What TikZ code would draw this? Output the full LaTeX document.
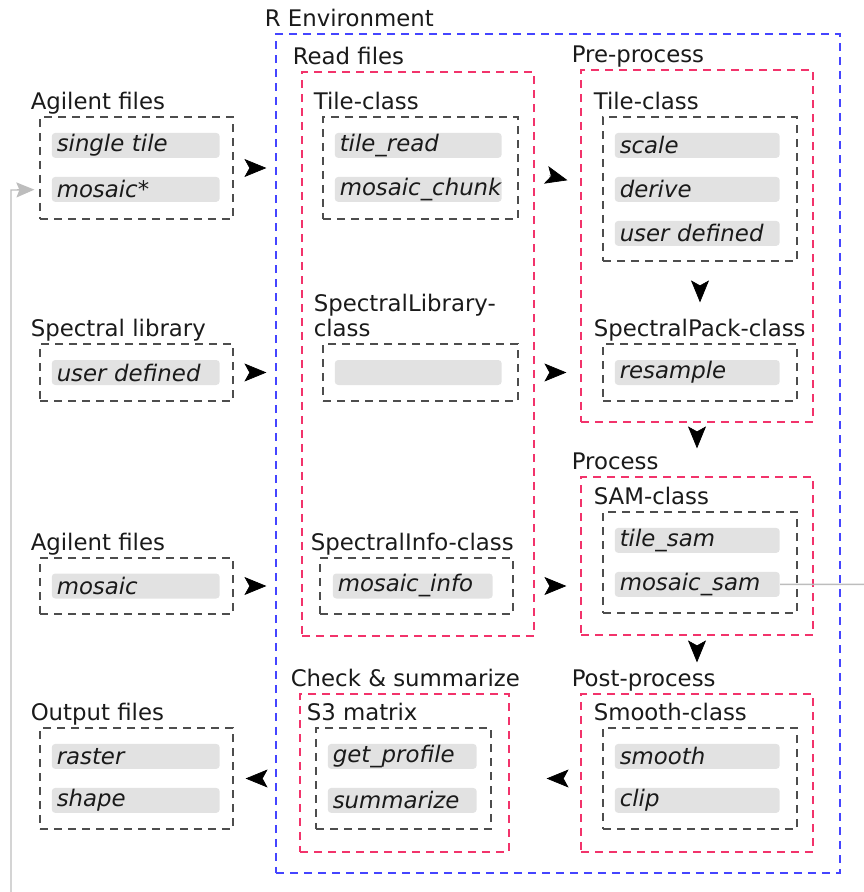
\documentclass[tikz,border=0pt]{standalone}
\usepackage{fontspec}
\setmainfont{DejaVu Sans}
\usetikzlibrary{arrows.meta, positioning, calc}

\definecolor{boxgray}{HTML}{4D4D4D}
\definecolor{stagered}{HTML}{F2336B}
\definecolor{envblue}{HTML}{4545FF}
\definecolor{bargray}{HTML}{E2E2E2}
\definecolor{loopgray}{HTML}{BDBDBD}
\definecolor{textdark}{HTML}{1A1A1A}
\newcommand{\diagfont}{\fontsize{13}{15}\selectfont}

\begin{document}
\begin{tikzpicture}[x=0.02cm, y=-0.02cm, node distance=0.88cm, on grid,
    classbox/.style={draw=boxgray, dash pattern=on 0.16cm off 0.12cm, line width=0.7pt, inner sep=0pt},
    stagebox/.style={draw=stagered, dash pattern=on 0.16cm off 0.12cm, line width=0.7pt, inner sep=0pt},
    envbox/.style={draw=envblue, dash pattern=on 0.16cm off 0.12cm, line width=0.7pt, inner sep=0pt},
    item/.style={fill=bargray, rounded corners=2pt, inner xsep=0.1cm, inner ysep=0pt,
        minimum height=0.5cm, text width=#1, align=left, anchor=west,
        font=\diagfont\itshape, text=textdark},
    lbl/.style={anchor=base west, inner sep=0pt, font=\diagfont, text=textdark},
    flow/.style={-{Stealth[length=0.44cm, width=0.36cm, inset=0.1cm]}, line width=0.4pt, black},
    loopline/.style={draw=loopgray, line width=0.75pt, -{Stealth[length=0.36cm, width=0.3cm, inset=0.06cm]}}]

    \useasboundingbox (0,0) rectangle (864,892);

    % R environment and the stages inside it
    \node[envbox, minimum width=11.28cm, minimum height=16.78cm] (renv) at (558,453.5) {};
    \node[stagebox, minimum width=4.64cm, minimum height=11.28cm] (readF) at (418,354) {};
    \node[stagebox, minimum width=4.64cm, minimum height=7.04cm] (preP) at (697,246) {};
    \node[stagebox, minimum width=4.64cm, minimum height=3.16cm] (proc) at (697,556) {};
    \node[stagebox, minimum width=4.64cm, minimum height=3.16cm] (post) at (697,773) {};
    \node[stagebox, minimum width=4.18cm, minimum height=3.16cm] (chk) at (404.5,773) {};

    \node[lbl] (lRenv) at ([shift={(-0.22cm,0.14cm)}]renv.north west) {R Environment};
    \node[lbl] (lReadF) at ([shift={(-0.18cm,0.14cm)}]readF.north west) {Read files};
    \node[lbl] (lPreP) at ([shift={(-0.18cm,0.14cm)}]preP.north west) {Pre-process};
    \node[lbl] (lProc) at ([shift={(-0.18cm,0.14cm)}]proc.north west) {Process};
    \node[lbl] (lPost) at ([shift={(-0.18cm,0.14cm)}]post.north west) {Post-process};
    \node[lbl] (lChk) at ([shift={(-0.18cm,0.14cm)}]chk.north west) {Check \& summarize};

    % input and output files
    \node[classbox, minimum width=3.86cm, minimum height=2.04cm] (agil1) at (136.5,168) {};
    \node[classbox, minimum width=3.86cm, minimum height=1.14cm] (spl) at (136.5,372.5) {};
    \node[classbox, minimum width=3.86cm, minimum height=1.12cm] (agil2) at (136.5,586) {};
    \node[classbox, minimum width=3.86cm, minimum height=2.02cm] (outF) at (136.5,778.5) {};

    \node[lbl] (lAgil1) at ([shift={(-0.18cm,0.14cm)}]agil1.north west) {Agilent files};
    \node[lbl] (lSpl) at ([shift={(-0.18cm,0.14cm)}]spl.north west) {Spectral library};
    \node[lbl] (lAgil2) at ([shift={(-0.18cm,0.14cm)}]agil2.north west) {Agilent files};
    \node[lbl] (lOutF) at ([shift={(-0.18cm,0.14cm)}]outF.north west) {Output files};

    \node[item=3.16cm] (sTile) at ([shift={(0.24cm,-0.58cm)}]agil1.north west) {single tile};
    \node[item=3.16cm, below=of sTile] (mos) {mosaic*};
    \node[item=3.16cm] (uDef) at ([xshift=0.24cm]spl.west) {user defined};
    \node[item=3.16cm] (mosA) at ([xshift=0.24cm]agil2.west) {mosaic};
    \node[item=3.16cm] (rast) at ([shift={(0.24cm,-0.58cm)}]outF.north west) {raster};
    \node[item=3.16cm, below=of rast] (shp) {shape};

    % classes
    \node[classbox, minimum width=3.90cm, minimum height=2.04cm] (tileR) at (420.5,168) {};
    \node[classbox, minimum width=3.90cm, minimum height=1.14cm] (spLib) at (420.5,372.5) {};
    \node[classbox, minimum width=3.86cm, minimum height=1.12cm] (spInfo) at (416.5,586) {};
    \node[classbox, minimum width=3.88cm, minimum height=2.88cm] (tileP) at (700,189) {};
    \node[classbox, minimum width=3.88cm, minimum height=1.14cm] (spPack) at (700,372.5) {};
    \node[classbox, minimum width=3.88cm, minimum height=2.02cm] (sam) at (700,562.5) {};
    \node[classbox, minimum width=3.88cm, minimum height=2.02cm] (smooth) at (700,778.5) {};
    \node[classbox, minimum width=3.50cm, minimum height=2.02cm] (s3) at (403.5,778.5) {};

    \node[lbl] (lTileR) at ([shift={(-0.18cm,0.14cm)}]tileR.north west) {Tile-class};
    \node[lbl, align=left, font=\fontsize{13}{14}\selectfont] (lSpLib) at ([shift={(-0.18cm,0.14cm)}]spLib.north west) {SpectralLibrary-\\class};
    \node[lbl] (lSpInfo) at ([shift={(-0.18cm,0.14cm)}]spInfo.north west) {SpectralInfo-class};
    \node[lbl] (lTileP) at ([shift={(-0.18cm,0.14cm)}]tileP.north west) {Tile-class};
    \node[lbl] (lSpPack) at ([shift={(-0.18cm,0.14cm)}]spPack.north west) {SpectralPack-class};
    \node[lbl] (lSam) at ([shift={(-0.18cm,0.14cm)}]sam.north west) {SAM-class};
    \node[lbl] (lSmooth) at ([shift={(-0.18cm,0.14cm)}]smooth.north west) {Smooth-class};
    \node[lbl] (lS3) at ([shift={(-0.18cm,0.14cm)}]s3.north west) {S3 matrix};

    \node[item=3.14cm] (tRead) at ([shift={(0.24cm,-0.58cm)}]tileR.north west) {tile\_read};
    \node[item=3.14cm, below=of tRead] (mChunk) {mosaic\_chunk};
    \node[item=3.14cm] (libBar) at ([xshift=0.24cm]spLib.west) {};
    \node[item=3.0cm] (mInfo) at ([xshift=0.26cm]spInfo.west) {mosaic\_info};
    \node[item=3.1cm] (scl) at ([shift={(0.24cm,-0.58cm)}]tileP.north west) {scale};
    \node[item=3.1cm, below=of scl] (drv) {derive};
    \node[item=3.1cm, below=of drv] (uDefP) {user defined};
    \node[item=3.1cm] (rsmp) at ([xshift=0.24cm]spPack.west) {resample};
    \node[item=3.1cm] (tsam) at ([shift={(0.24cm,-0.58cm)}]sam.north west) {tile\_sam};
    \node[item=3.1cm, below=of tsam] (msam) {mosaic\_sam};
    \node[item=3.1cm] (smth) at ([shift={(0.24cm,-0.58cm)}]smooth.north west) {smooth};
    \node[item=3.1cm, below=of smth] (clp) {clip};
    \node[item=2.78cm] (gProf) at ([shift={(0.24cm,-0.58cm)}]s3.north west) {get\_profile};
    \node[item=2.78cm, below=of gProf] (summ) {summarize};

    % flow
    \draw[flow, shorten <=0.34cm, shorten >=1.12cm] (agil1.east) -- (tileR.west);
    \draw[flow, shorten <=0.64cm, shorten >=0.72cm] (tileR.east) -- (tileP.west);
    \draw[flow, shorten <=0.34cm, shorten >=1.12cm] (spl.east) -- (spLib.west);
    \draw[flow, shorten <=0.64cm, shorten >=0.72cm] (spLib.east) -- (spPack.west);
    \draw[flow, shorten <=0.34cm, shorten >=1.06cm] (agil2.east) -- (spInfo.west);
    \draw[flow, shorten <=0.74cm, shorten >=0.72cm] (spInfo.east) -- (spInfo.east -| sam.west);
    \draw[flow, shorten <=0.5cm, shorten >=0.82cm] (tileP.south) -- (spPack.north);
    \draw[flow, shorten <=0.2cm, shorten >=0.56cm] (preP.south) -- (proc.north);
    \draw[flow, shorten <=0.22cm, shorten >=0.62cm] (proc.south) -- (post.north);
    \draw[flow, shorten <=0.8cm, shorten >=1.1cm] (smooth.west) -- (s3.east);
    \draw[flow, shorten <=0.76cm, shorten >=0.24cm] (outF.east -| chk.west) -- (outF.east);

    % loop back to the mosaic input
    \coordinate (loopR) at (890,910);
    \coordinate (loopL) at (11,190);
    \draw[loopline, shorten >=0.34cm] (msam.east) -| (loopR) -| (loopL) -- (mos.west);

\end{tikzpicture}
\end{document}
